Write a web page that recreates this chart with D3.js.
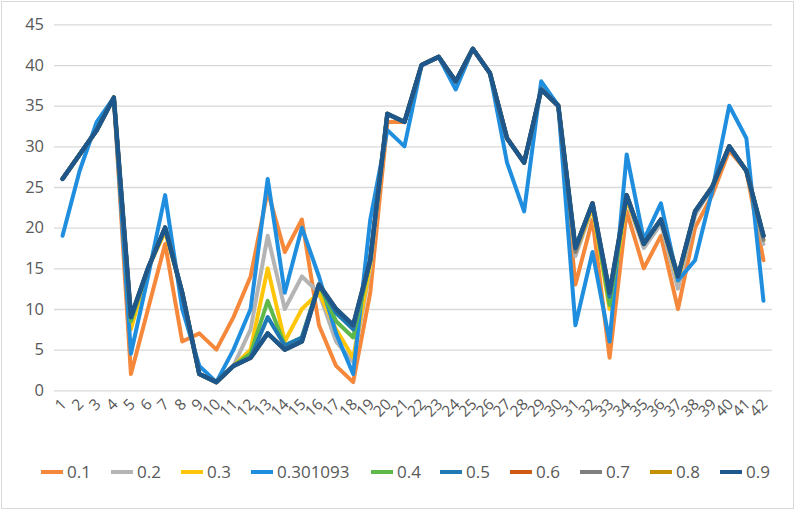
<!DOCTYPE html>
<html>
<head>
<meta charset="utf-8">
<script src="https://cdn.jsdelivr.net/npm/d3@7"></script>
<style>
  body { margin: 0; background: #fff; }
  svg { display: block; font-family: "Open Sans", "Noto Sans", sans-serif; }
</style>
</head>
<body>
<svg id="chart" width="796" height="511"></svg>
<script>
const categories = d3.range(1, 43).map(String);
const seriesNames = ["0.1", "0.2", "0.3", "0.301093", "0.4", "0.5", "0.6", "0.7", "0.8", "0.9"];
const yTicks = [0, 5, 10, 15, 20, 25, 30, 35, 40, 45];

const s01 = [26,29,32,36,2,10,18,6,7,5,9,14,24.5,17,21,8,3,1,12,33,33,40,41,38,42,39,31,28,37,35,13,21,4,22,15,19,10,20,24,29.5,27,16];
const s02 = [26,29,32,36,8.5,15,20,12,2,1,3,7.5,19,10,14,12,6,3.5,15,34,33,40,41,38,42,39,31,28,37,35,16.5,22.5,11,23.5,17.5,20.5,12.5,21.5,25,30,27,18];
const s03 = [26,29,32,36,7.5,15,19.5,12,2,1,3,5,15,6,10,12,7.5,4,15.5,34,33,40,41,38,42,39,31,28,37,35,17,22.5,10,23.5,18,21,13.5,22,25,30,27,18.5];
const s0301093 = [19,27,33,36,4.5,14,24,10,3,1,5,10,26,12,20,14,7,2,21,32,30,40,41,37,42,39,28,22,38,35,8,17,6,29,18.5,23,13.5,16,24.5,35,31,11];
const s04 = [26,29,32,36,8.5,15,20,12,2,1,3,4.5,11,5.5,6.5,13,8.5,6.5,16,34,33,40,41,38,42,39,31,28,37,35,17.5,23,10.5,24,18,21,14,22,25,30,27,19];
const s05 = [26,29,32,36,9,15,20,12,2,1,3,4,9,5.5,6.5,13,9.5,7.5,16,34,33,40,41,38,42,39,31,28,37,35,17.5,23,11.5,24,18,21,14,22,25,30,27,19];
const s06 = [26,29,32,36,9,15,20,12,2,1,3,4,7,5,6,13,10,8,16,34,33,40,41,38,42,39,31,28,37,35,17.5,23,12,24,18,21,14,22,25,30,27,19];
const s07 = [26,29,32,36,9,15,20,12,2,1,3,4,7,5,6,13,10,8,16,34,33,40,41,38,42,39,31,28,37,35,17,23,12,24,18,21,14,22,25,30,27,18.5];
const s08 = [26,29,32,36,9,15,20,12,2,1,3,4,7,5,6,13,10,8,16,34,33,40,41,38,42,39,31,28,37,35,17.5,23,12,24,18,21,14,22,25,30,27,19];
const s09 = [26,29,32,36,9,15,20,12,2,1,3,4,7,5,6,13,10,8,16,34,33,40,41,38,42,39,31,28,37,35,17.5,23,12,24,18,21,14,22,25,30,27,19];

const seriesValues = [s01, s02, s03, s0301093, s04, s05, s06, s07, s08, s09];
const colors = ["#F5883A", "#B4B4B4", "#FFC609", "#1F8EDE", "#5EB94A", "#1E79B5", "#D05A12", "#7F7F7F", "#C39104", "#1E578C"];

const svg = d3.select("#chart");
const W = 796, H = 511;
const m = { left: 54, right: 24, top: 24.4, bottom: 120.7 };
const x = d3.scaleBand().domain(categories).range([m.left, W - m.right]);
const y = d3.scaleLinear().domain([0, 45]).range([H - m.bottom, m.top]);

// outer border
svg.append("rect").attr("x", 1.5).attr("y", 1.5).attr("width", W - 4).attr("height", H - 4)
  .attr("fill", "#fff").attr("stroke", "#D9D9D9").attr("stroke-width", 1);

// gridlines + y labels
const yAxis = d3.axisLeft(y).tickValues(yTicks).tickSize(-(W - m.left - m.right)).tickPadding(10);
const gy = svg.append("g").attr("transform", `translate(${m.left},0)`).call(yAxis);
gy.select(".domain").remove();
gy.selectAll(".tick line").attr("stroke", "#D9D9D9").attr("stroke-width", 1.3);
gy.selectAll(".tick text").attr("fill", "#595959").attr("font-size", 16.5).attr("font-family", "Open Sans, sans-serif");

// x labels
const xAxis = d3.axisBottom(x).tickSize(0).tickPadding(0);
const gx = svg.append("g").attr("transform", `translate(0,${H - m.bottom})`).call(xAxis);
gx.select(".domain").remove();
gx.selectAll(".tick text")
  .attr("fill", "#595959").attr("font-size", 15.5).attr("font-family", "Open Sans, sans-serif")
  .attr("text-anchor", "end").attr("dy", null).attr("y", 0)
  .attr("transform", "translate(5,15) rotate(-45)");

// lines
const line = d3.line().x((d, i) => x(categories[i]) + x.bandwidth() / 2).y(d => y(d));
seriesValues.forEach((vals, k) => {
  svg.append("path").datum(vals)
    .attr("fill", "none").attr("stroke", colors[k])
    .attr("stroke-width", k === 9 ? 4.6 : 4)
    .attr("stroke-linejoin", "round").attr("stroke-linecap", "round")
    .attr("d", line);
});

// legend
const legendX = [41, 111, 181, 251, 371, 440, 510, 580, 650, 720];
const legY = 472;
const lg = svg.append("g");
seriesNames.forEach((name, k) => {
  lg.append("line").attr("x1", legendX[k]).attr("x2", legendX[k] + 22)
    .attr("y1", legY).attr("y2", legY).attr("stroke", colors[k]).attr("stroke-width", 4);
  lg.append("text").attr("x", legendX[k] + 26).attr("y", legY).attr("dy", "0.35em")
    .attr("fill", "#595959").attr("font-size", 17).attr("font-family", "Open Sans, sans-serif")
    .text(name);
});
</script>
</body>
</html>
